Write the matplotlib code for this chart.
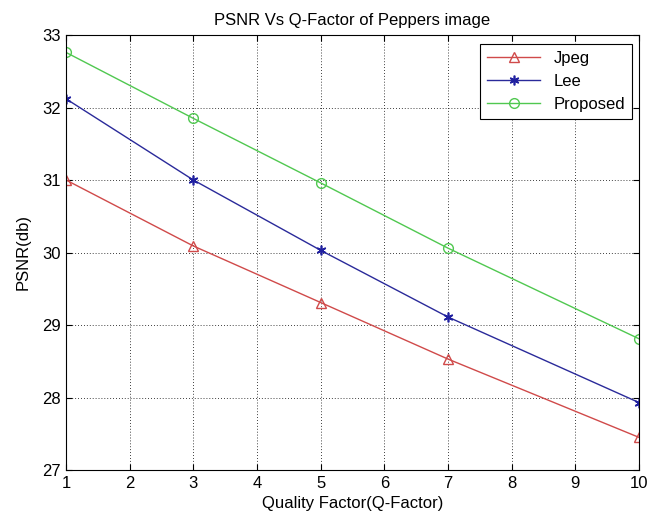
import matplotlib
matplotlib.use("Agg")
import matplotlib.pyplot as plt

plt.rcParams['font.family'] = ['Liberation Sans', 'DejaVu Sans']

quality = [1, 3, 5, 7, 10]
jpeg = [31.0, 30.09, 29.31, 28.53, 27.45]
lee = [32.12, 31.0, 30.03, 29.11, 27.93]
proposed = [32.76, 31.85, 30.96, 30.06, 28.81]

x_ticks = list(range(1, 11))
y_ticks = [27, 28, 29, 30, 31, 32, 33]

fig = plt.figure(figsize=(6.55, 5.16), dpi=100)
ax = fig.add_axes([66/655, 1 - 470/516, (639-66)/655, (470-35)/516])

ax.plot(quality, jpeg, color='#d04a4a', marker='^', markersize=7, markerfacecolor='none',
        markeredgecolor='#d04a4a', linewidth=1.0, label='Jpeg')
ax.plot(quality, lee, color='#2a2a9a', marker=(6, 2, 0), markersize=7,
        markeredgecolor='#2020a0', markeredgewidth=1.2, linewidth=1.0, label='Lee')
ax.plot(quality, proposed, color='#50c850', marker='o', markersize=7, markerfacecolor='none',
        markeredgecolor='#50c850', linewidth=1.0, label='Proposed')

ax.set_xlim(1, 10)
ax.set_ylim(27, 33)
ax.set_xticks(x_ticks)
ax.set_yticks(y_ticks)
ax.grid(True, linestyle=(0, (1, 2.5)), color='black', linewidth=0.6)
ax.tick_params(direction='in', top=True, right=True, labelsize=12, length=4, pad=4)
for s in ax.spines.values():
    s.set_linewidth(0.8)

ax.set_title('PSNR Vs Q-Factor of Peppers image', fontsize=12, pad=7)
ax.set_xlabel('Quality Factor(Q-Factor)', fontsize=12, labelpad=4)
ax.set_ylabel('PSNR(db)', fontsize=12, labelpad=8)

leg = ax.legend(loc='upper right', bbox_to_anchor=(1 - 7/573, 1 - 9/435), fontsize=12,
                fancybox=False, edgecolor='black', framealpha=1, handlelength=3.2,
                borderaxespad=0, labelspacing=0.5)
leg.get_frame().set_linewidth(0.8)

fig.savefig('out.png', dpi=100)
